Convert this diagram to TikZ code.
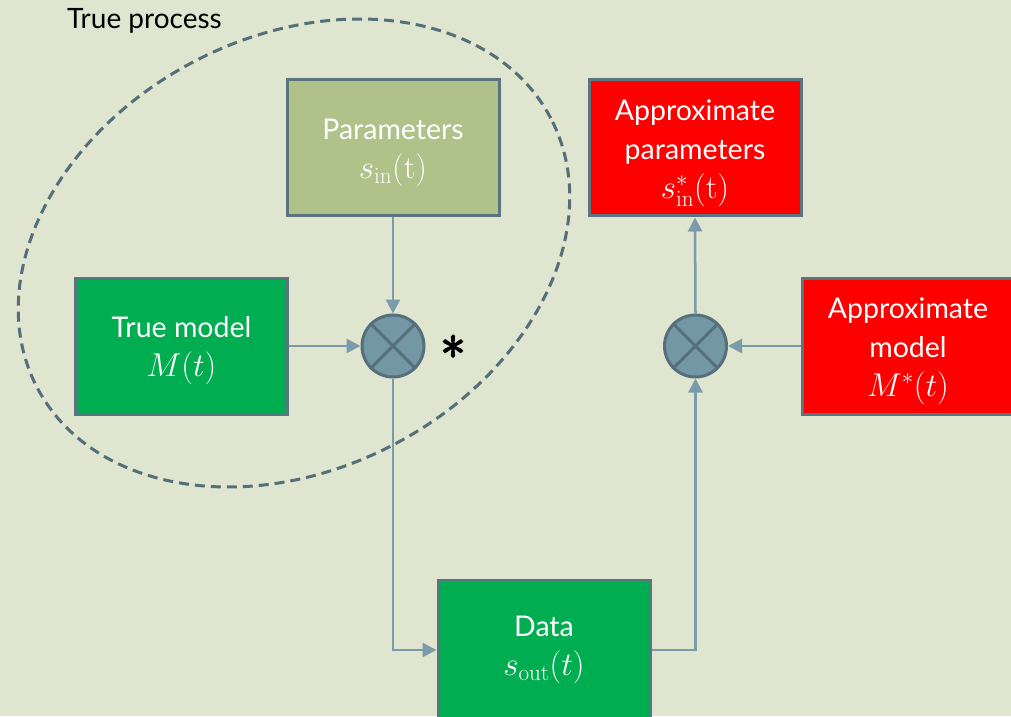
\RequirePackage{fix-cm}
\documentclass[tikz,border=0pt]{standalone}
\usepackage[no-math]{fontspec}
\setmainfont{Lato}
\usetikzlibrary{arrows.meta}
\definecolor{bg}{HTML}{DFE5CF}
\definecolor{boxline}{HTML}{5A7480}
\definecolor{conn}{HTML}{7A9CAA}
\definecolor{paramfill}{HTML}{AEC28A}
\definecolor{greenfill}{HTML}{00AD50}
\definecolor{redfill}{HTML}{FF0000}
\definecolor{circfill}{HTML}{7397A4}
\definecolor{circline}{HTML}{55707A}
\definecolor{dashcol}{HTML}{546E7A}
\newcommand{\bigmath}[1]{{\fontsize{33}{39}\selectfont$#1$}}
\newcommand{\topstrut}{\rule{0pt}{31pt}}
\tikzset{
  blockbox/.style={draw=boxline, line width=3pt, minimum width=212pt, minimum height=136pt,
    text=white, align=center, inner sep=0pt, font=\fontsize{28.5}{39}\selectfont},
  mixer/.style={circle, draw=circline, fill=circfill, line width=3pt, minimum size=62pt, inner sep=0pt},
  connector/.style={draw=conn, line width=2.5pt, -{Triangle[length=14pt,width=14pt]}},
}
\begin{document}
\begin{tikzpicture}[x=1pt,y=1pt]
\fill[bg] (0,0) rectangle (1011,716);
\useasboundingbox (0,0) rectangle (1011,716);
\clip (0,0) rectangle (1011,716);
% dashed ellipse
\draw[dashcol, line width=3pt, dash pattern=on 10pt off 6pt]
  (294,463) ellipse[x radius=290pt, y radius=216pt, rotate=27.7];
\node[font=\fontsize{28}{32}\selectfont, text=black] (tp) at (144.5,695) {True process};
% boxes
\node[blockbox, fill=paramfill] (params) at (393,568) {\topstrut Parameters\\\bigmath{s_{\mathrm{in}}(\mathrm{t})}};
\node[blockbox, fill=redfill] (aparams) at (695,568) {\topstrut Approximate\\parameters\\\bigmath{s^{*}_{\mathrm{in}}(\mathrm{t})}};
\node[blockbox, fill=greenfill] (tmodel) at (181.5,370) {\topstrut True model\\\bigmath{M(t)}};
\node[blockbox, fill=redfill] (amodel) at (908,370) {\topstrut Approximate\\model\\\bigmath{M^{*}(t)}};
\node[blockbox, fill=greenfill, minimum height=140pt] (data) at (544,66) {Data\\\bigmath{s_{\mathrm{out}}(t)}};
% mixers
\node[mixer] (c1) at (393,370) {};
\node[mixer] (c2) at (695.5,370) {};
\draw[circline, line width=3pt] (c1.north west) -- (c1.south east) (c1.north east) -- (c1.south west);
\draw[circline, line width=3pt] (c2.north west) -- (c2.south east) (c2.north east) -- (c2.south west);
\node[font={\fontsize{50}{50}\selectfont}, inner sep=0pt] (star) at (453,369) {\special{pdf:literal 2 Tr 1.6 w}$\ast$\special{pdf:literal 0 Tr}};
% connectors
\draw[connector] (params.south) -- (c1.north);
\draw[connector] (tmodel.east) -- (c1.west);
\draw[connector] (c1.south) |- (data.west);
\draw[connector] (data.east) -| (c2.south);
\draw[connector] (amodel.west) -- (c2.east);
\draw[connector] (c2.north) -- (aparams.south);
\end{tikzpicture}
\end{document}
